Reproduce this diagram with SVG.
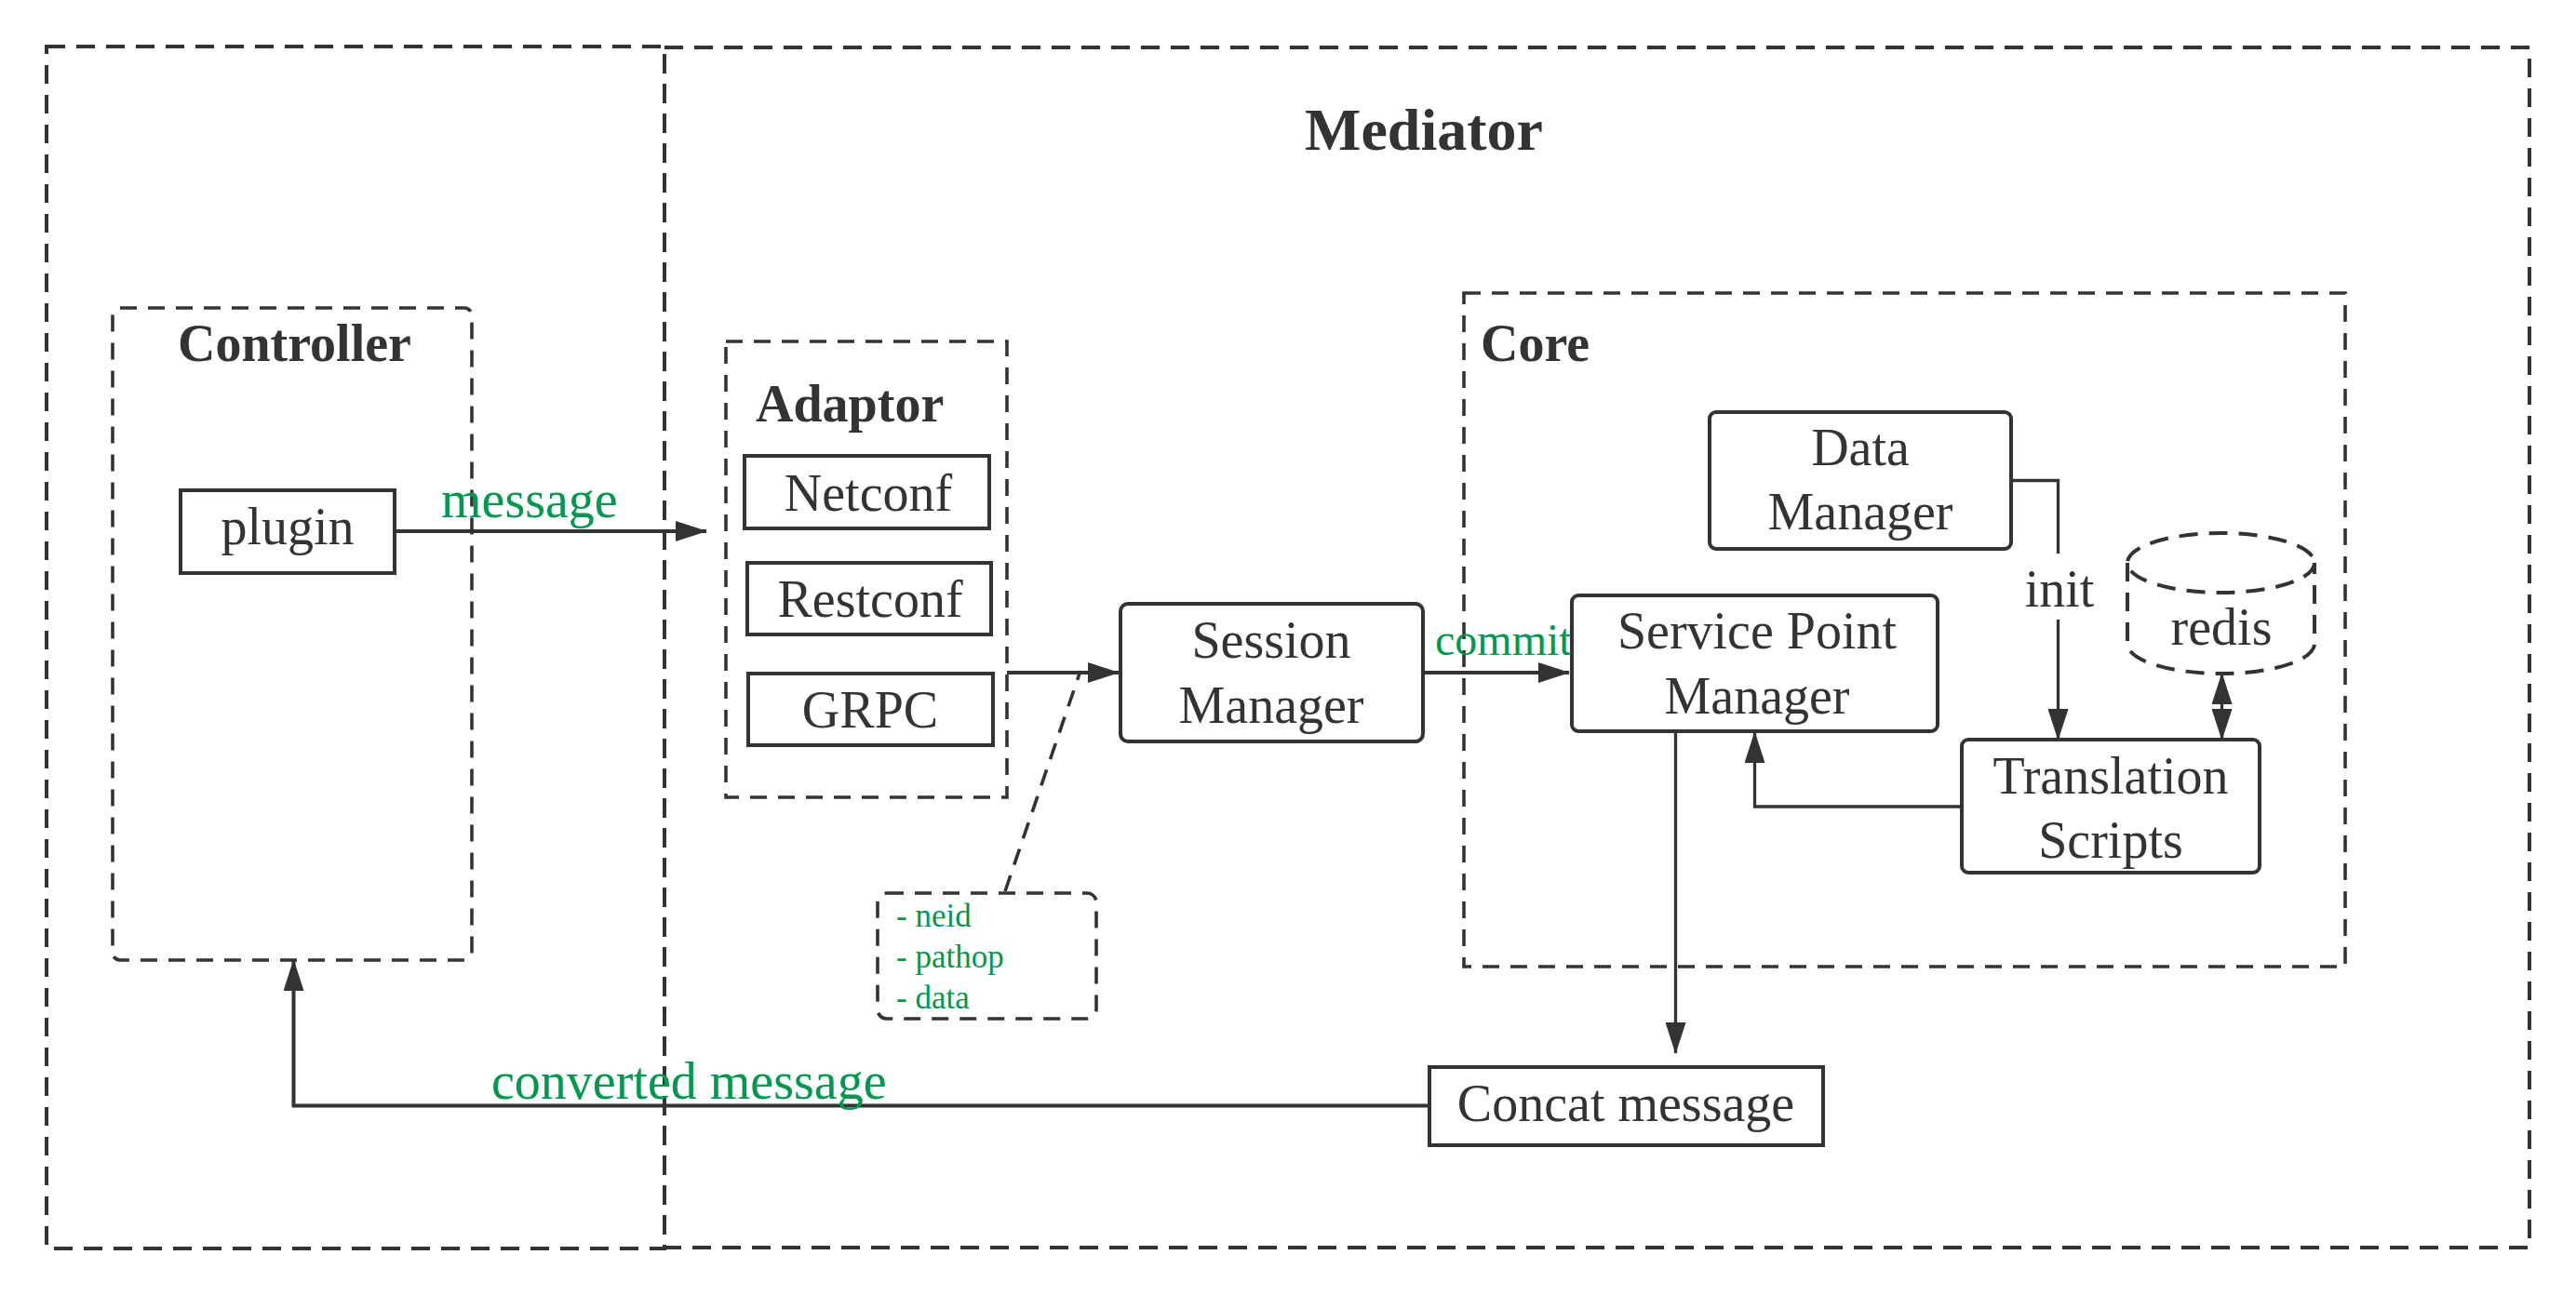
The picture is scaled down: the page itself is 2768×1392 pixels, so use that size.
<svg xmlns="http://www.w3.org/2000/svg" width="2768" height="1392" viewBox="0 0 2768 1392">
<defs>
<style>
.dash{fill:none;stroke:#333;stroke-width:4;stroke-dasharray:20 12}
.dashs{fill:none;stroke:#333;stroke-width:3.6;stroke-dasharray:18 12}
.box{fill:#fff;stroke:#333;stroke-width:4}
.ln{fill:none;stroke:#333;stroke-width:4}
.lt{fill:none;stroke:#333;stroke-width:3.3}
text{font-family:"Liberation Serif","Times New Roman",serif;fill:#333}
.t{font-size:56px;text-anchor:middle}
.b{font-size:56px;font-weight:bold}
.g{fill:#00994d}
</style>
<marker id="ar" markerUnits="userSpaceOnUse" markerWidth="34" markerHeight="22" refX="33" refY="11" orient="auto-start-reverse" viewBox="0 0 34 22">
<path d="M0,0 L34,11 L0,22 Z" fill="#333"/>
</marker>
</defs>
<rect width="2768" height="1392" fill="#fff"/>

<g id="controller-system">
<rect class="dash" x="50" y="50" width="664" height="1292"/>
</g>
<g id="mediator">
<rect class="dash" x="714" y="51" width="2004" height="1290"/>
<text class="b" x="1530" y="161" text-anchor="middle" style="font-size:64px">Mediator</text>
</g>
<g id="controller">
<rect class="dashs" x="121" y="331" width="386" height="701" rx="8"/>
<text class="b" x="191" y="388">Controller</text>
</g>
<g id="plugin">
<rect class="box" x="194" y="527" width="230" height="89"/>
<text class="t" x="309" y="585">plugin</text>
</g>
<g id="adaptor">
<rect class="dashs" x="780" y="367" width="302" height="490"/>
<text class="b" x="812" y="453">Adaptor</text>
</g>
<g id="netconf">
<rect class="box" x="800" y="490" width="263" height="78"/>
<text class="t" x="933" y="549">Netconf</text>
</g>
<g id="restconf">
<rect class="box" x="803" y="605" width="262" height="77"/>
<text class="t" x="935" y="663">Restconf</text>
</g>
<g id="grpc">
<rect class="box" x="804" y="724" width="263" height="77"/>
<text class="t" x="935" y="782">GRPC</text>
</g>
<g id="core">
<rect class="dashs" x="1573" y="315" width="947" height="724"/>
<text class="b" x="1591" y="388">Core</text>
</g>
<g id="session-manager">
<rect class="box" x="1204" y="649" width="325" height="148" rx="8"/>
<text class="t" x="1366" y="707">Session</text>
<text class="t" x="1366" y="777">Manager</text>
</g>
<g id="service-point-manager">
<rect class="box" x="1689" y="640" width="393" height="146" rx="7"/>
<text class="t" x="1888" y="697">Service Point</text>
<text class="t" x="1888" y="767">Manager</text>
</g>
<g id="data-manager">
<rect class="box" x="1837" y="443" width="324" height="147" rx="7"/>
<text class="t" x="1999" y="500">Data</text>
<text class="t" x="1999" y="569">Manager</text>
</g>
<g id="redis">
<path class="dash" d="M2286,605 V692 A100.5,32 0 0 0 2487,692 V605" stroke-dasharray="18 12"/>
<ellipse class="dash" cx="2386.5" cy="605" rx="100.5" ry="32" stroke-dasharray="18 12"/>
<text class="t" x="2387" y="693">redis</text>
</g>
<g id="translation-scripts">
<rect class="box" x="2108" y="795" width="320" height="143" rx="7"/>
<text class="t" x="2268" y="853">Translation</text>
<text class="t" x="2268" y="922">Scripts</text>
</g>
<g id="concat-message">
<rect class="box" x="1536" y="1147" width="423" height="84"/>
<text class="t" x="1747" y="1205">Concat message</text>
</g>
<g id="note">
<rect class="dashs" x="943" y="960" width="235" height="135" rx="10"/>
<text class="g" x="963" y="996" style="font-size:35px">- neid</text>
<text class="g" x="963" y="1040" style="font-size:35px">- pathop</text>
<text class="g" x="963" y="1084" style="font-size:35px">- data</text>
</g>

<g id="connectors">
<path class="ln" d="M424,571 H759" marker-end="url(#ar)"/>
<text class="g" x="474" y="556" style="font-size:56px">message</text>
<path class="ln" d="M1082,723 H1202" marker-end="url(#ar)"/>
<path class="dashs" d="M1080,958 L1160,724"/>
<path class="ln" d="M1529,723 H1686" marker-end="url(#ar)"/>
<text class="g" x="1542" y="704" style="font-size:48px">commit</text>
<path class="lt" d="M2161,516.5 H2211.5 V595"/>
<path class="lt" d="M2211.5,666 V795" marker-end="url(#ar)"/>
<text class="t" x="2213" y="652">init</text>
<path class="lt" d="M2387.5,724 V795" marker-start="url(#ar)" marker-end="url(#ar)"/>
<path class="lt" d="M2108,867 H1885.5 V787" marker-end="url(#ar)"/>
<path class="lt" d="M1800.5,786 V1132" marker-end="url(#ar)"/>
<path class="ln" d="M1536,1188.5 H315.5 V1032" marker-end="url(#ar)"/>
<text class="g" x="528" y="1181" style="font-size:56px">converted message</text>
</g>
</svg>
